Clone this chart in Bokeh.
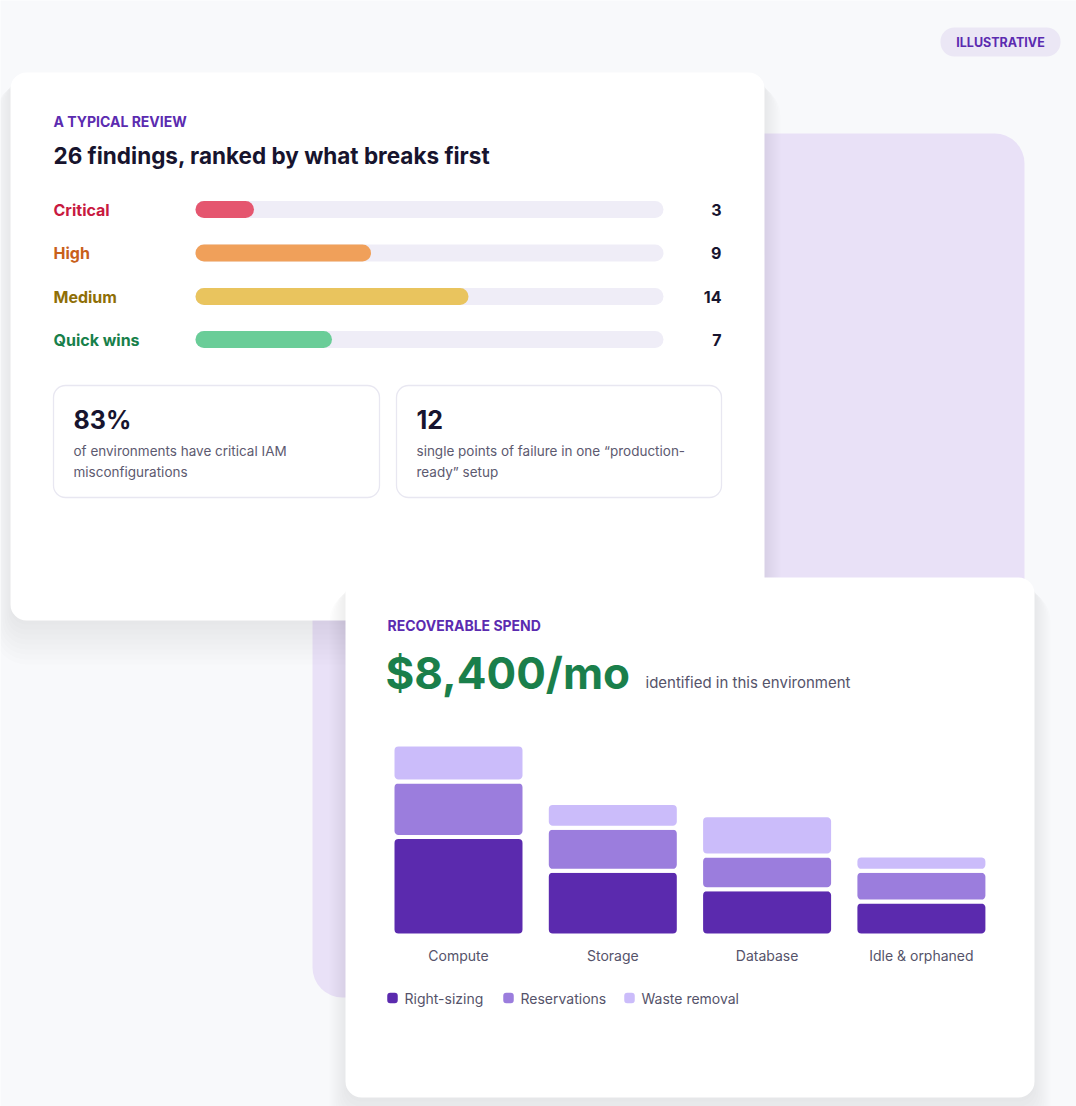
from bokeh.plotting import figure
from bokeh.models import Range1d
from bokeh.core.properties import value
from bokeh.embed import file_html
from bokeh.resources import INLINE

# ---------------- data ----------------
severity = ["Critical", "High", "Medium", "Quick wins"]
findings = [3, 9, 14, 7]
severity_max = 24
stat_values = ["83%", "12"]
stat_lines = [["of environments have critical IAM", "misconfigurations"],
              ["single points of failure in one \u201cproduction-", "ready\u201d setup"]]
categories = ["Compute", "Storage", "Database", "Idle & orphaned"]
right_sizing = [1600, 1050, 750, 550]
reservations = [900, 700, 550, 500]
waste_removal = [600, 400, 650, 250]
series_names = ["Right-sizing", "Reservations", "Waste removal"]
total_label = "$8,400/mo"

# ---------------- page geometry ----------------
W, H = 1076, 1106
OX, OY = 0, 0
FONT = value("Inter")


def Y(s):
    return OY + H - s


p = figure(width=W, height=H, x_range=Range1d(OX, OX + W), y_range=Range1d(0, H),
           output_backend="svg", toolbar_location=None, min_border=0,
           x_axis_location=None, y_axis_location=None)
p.grid.visible = False
p.outline_line_color = None
p.background_fill_color = "#f8f9fb"
p.border_fill_color = "#f8f9fb"

# severity value range: 0 -> x=195, max -> x=663
sx0, sx1 = 195, 663
k_sev = (sx1 - sx0) / severity_max
s_start = -(sx0 - OX) / k_sev
p.extra_x_ranges["sev"] = Range1d(s_start, s_start + W / k_sev)

# spend chart ranges
k_spend = 191 / 3100.0       # px per dollar
base_px = 935
sp_start = -(Y(base_px)) / k_spend
p.extra_y_ranges["spend"] = Range1d(sp_start, sp_start + H / k_spend)
k_cat = 154.3
c_start = -(458 - OX) / k_cat
p.extra_x_ranges["cat"] = Range1d(c_start, c_start + W / k_cat)


def rr(l, r, t, b, color, radius, alpha=1.0, line_color=None, line_width=1):
    p.quad(left=[l], right=[r], top=[Y(t)], bottom=[Y(b)], fill_color=color,
           fill_alpha=alpha, line_color=line_color, line_width=line_width,
           border_radius=int(radius))


def shadow(l, r, t, b, radius, n=9):
    for i in range(n):
        rr(l - 2 * i, r + 2 * i, t + 4 + i, b + 4 + 5 * i, "#3a2d6b", radius + 2 * i, alpha=0.011)


def txt(x, y, t, size, color, bold=False, align="left"):
    p.text(x=x, y=[Y(v) for v in y], text=t, text_font=FONT, text_font_size=size,
           text_font_style="bold" if bold else "normal", text_color=color,
           text_align=align, text_baseline="middle")


# purple back panel
rr(312, 1024, 133, 997, "#e9e1f7", 30)

# ---------------- card 1 ----------------
shadow(10, 764, 72, 620, 16)
rr(10, 764, 72, 620, "#ffffff", 16)

txt([53], [121], ["A TYPICAL REVIEW"], "14px", "#5b2bb0", bold=True)
txt([53], [155], ["26 findings, ranked by what breaks first"], "22.5px", "#17142e", bold=True)

rows = [209, 252.5, 296, 339]
label_colors = ["#c8193f", "#c9601a", "#8f6f06", "#17804a"]
bar_colors = ["#e5566f", "#f0a05a", "#e9c45e", "#6acd98"]
p.hbar(y=[Y(r) for r in rows], left=0, right=severity_max, height=17,
       x_range_name="sev", fill_color="#efedf7", line_color=None, border_radius=9)
p.hbar(y=[Y(r) for r in rows], left=0, right=findings, height=17,
       x_range_name="sev", fill_color=bar_colors, line_color=None, border_radius=9)
for i, s in enumerate(severity):
    txt([53], [rows[i]], [s], "16px", label_colors[i], bold=True)
txt([721] * 4, rows, [str(v) for v in findings], "16px", "#17142e", bold=True, align="right")

# stat cards
for j, (l, r) in enumerate([(53, 379), (396, 721)]):
    rr(l, r, 385, 497, "#ffffff", 12, line_color="#e8e7f1", line_width=1.3)
    txt([l + 20], [419], [stat_values[j]], "25px", "#17142e", bold=True)
    txt([l + 20, l + 20], [450, 471], stat_lines[j], "13.5px", "#5d5a70")

# ---------------- card 2 ----------------
shadow(345, 1034, 577, 1097, 16)
rr(345, 1034, 577, 1097, "#ffffff", 16)

txt([387], [625], ["RECOVERABLE SPEND"], "14px", "#5b2bb0", bold=True)
txt([385], [672], [total_label], "44px", "#1a7f4b", bold=True)
txt([645], [682], ["identified in this environment"], "15px", "#55536a")

seg_colors = ["#5b2aae", "#9b7ddd", "#cbbcfa"]
xs = list(range(len(categories)))
b0 = [0] * len(categories)
t0 = right_sizing
t1 = [a + b for a, b in zip(t0, reservations)]
t2 = [a + b for a, b in zip(t1, waste_removal)]
for bottoms, tops, col in [(b0, t0, seg_colors[0]), (t0, t1, seg_colors[1]), (t1, t2, seg_colors[2])]:
    p.vbar(x=xs, bottom=bottoms, top=tops, width=132 / k_cat, x_range_name="cat",
           y_range_name="spend", fill_color=col, line_color="#ffffff", line_width=4,
           border_radius=6)

p.text(x=xs, y=[Y(955)] * len(categories), text=categories, x_range_name="cat",
       text_font=FONT, text_font_size="14px", text_color="#55536a",
       text_align="center", text_baseline="middle")

# legend
leg_x = [392, 508, 629]
p.rect(x=leg_x, y=[Y(997.5)] * 3, width=10.5, height=10.5, fill_color=seg_colors,
       line_color=None, border_radius=3)
txt([v + 12 for v in leg_x], [997.5] * 3, series_names, "14px", "#55536a")

# badge
rr(940, 1060, 27, 56, "#ebe7f5", 14)
txt([1000], [42], ["ILLUSTRATIVE"], "12.5px", "#5b2bb0", bold=True, align="center")

open("out.html", "w").write(file_html(p, INLINE))
